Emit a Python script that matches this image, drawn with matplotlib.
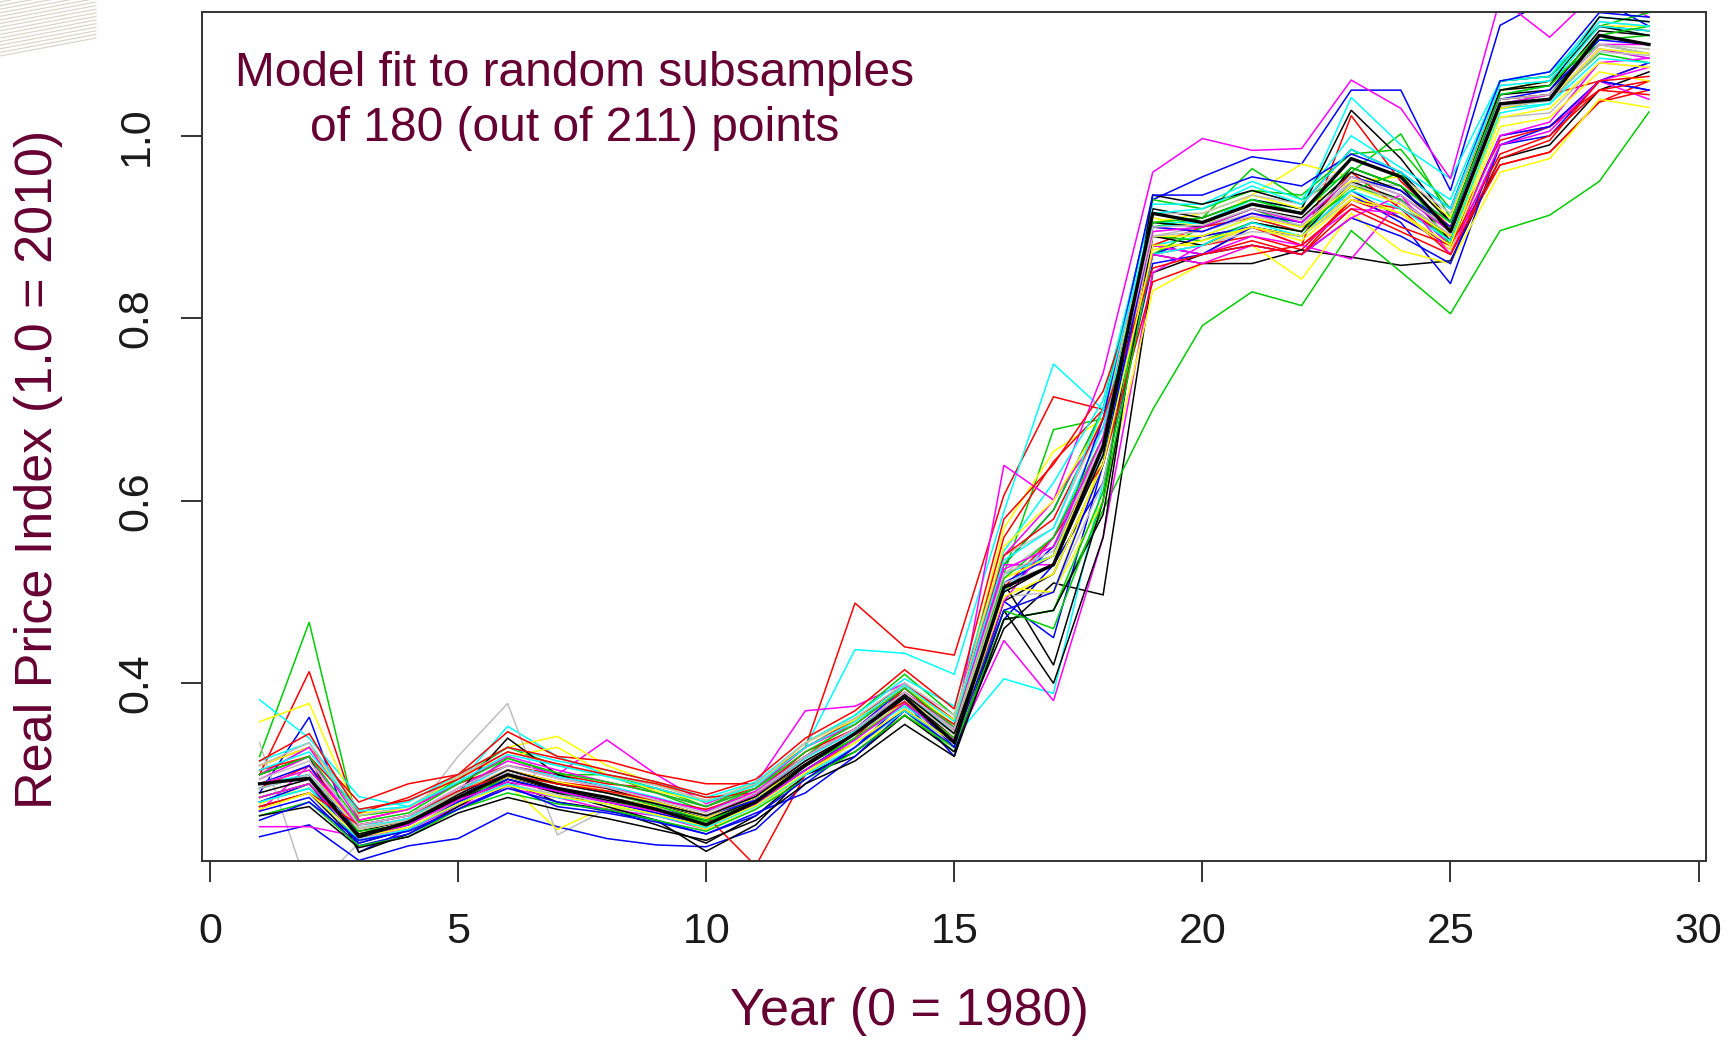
import matplotlib
matplotlib.use("Agg")
import matplotlib.pyplot as plt
from matplotlib.lines import Line2D

plt.rcParams['font.family'] = ['Liberation Sans', 'DejaVu Sans']

# ---------------- data ----------------
years = list(range(1, 30))
x_ticks = [0, 5, 10, 15, 20, 25, 30]
y_ticks = [0.4, 0.6, 0.8, 1.0]
y_tick_labels = ["0.4", "0.6", "0.8", "1.0"]

full_fit = [0.290,0.296,0.232,0.248,0.275,0.300,0.285,0.275,0.262,0.245,0.270,0.310,0.345,0.385,0.335,0.505,0.530,0.660,0.915,0.905,0.925,0.915,0.975,0.955,0.895,1.035,1.040,1.110,1.100]

black_a = [0.265,0.280,0.225,0.240,0.268,0.292,0.270,0.262,0.245,0.225,0.255,0.300,0.325,0.365,0.330,0.460,0.510,0.497,0.850,0.870,0.900,0.890,0.950,0.930,0.880,1.040,1.045,1.110,1.100]
black_b = [0.275,0.290,0.230,0.245,0.272,0.298,0.283,0.272,0.262,0.250,0.272,0.305,0.340,0.378,0.335,0.490,0.520,0.640,0.870,0.860,0.860,0.875,0.867,0.858,0.863,0.975,0.990,1.050,1.070]
black_c = [0.300,0.320,0.215,0.235,0.265,0.295,0.280,0.265,0.250,0.216,0.245,0.300,0.320,0.365,0.325,0.480,0.400,0.560,0.920,0.910,0.930,0.920,1.028,0.975,0.905,1.060,1.065,1.120,1.110]
black_d = [0.285,0.300,0.238,0.250,0.280,0.340,0.300,0.285,0.268,0.252,0.275,0.312,0.345,0.385,0.340,0.510,0.420,0.600,0.935,0.925,0.940,0.925,0.985,0.960,0.905,1.050,1.060,1.120,1.115]
black_e = [0.255,0.265,0.220,0.232,0.258,0.275,0.262,0.252,0.240,0.228,0.250,0.290,0.315,0.355,0.320,0.470,0.480,0.585,0.890,0.880,0.905,0.895,0.965,0.945,0.885,1.050,1.055,1.130,1.125]
black_f = [0.280,0.295,0.235,0.248,0.278,0.305,0.290,0.280,0.268,0.255,0.276,0.315,0.345,0.388,0.345,0.500,0.530,0.650,0.905,0.900,0.920,0.910,0.960,0.940,0.895,1.045,1.050,1.115,1.110]

red_a = [0.300,0.413,0.250,0.262,0.290,0.310,0.300,0.290,0.285,0.270,0.285,0.330,0.488,0.440,0.431,0.606,0.714,0.700,0.870,0.880,0.890,0.875,0.930,0.910,0.880,0.968,0.982,1.037,1.060]
red_b = [0.310,0.330,0.270,0.290,0.300,0.347,0.320,0.315,0.300,0.290,0.290,0.330,0.360,0.400,0.360,0.560,0.643,0.700,0.880,0.870,0.885,0.870,0.930,0.920,0.870,0.968,0.982,1.037,1.050]
red_c = [0.285,0.310,0.240,0.250,0.280,0.305,0.292,0.285,0.270,0.255,0.200,0.300,0.340,0.395,0.350,0.520,0.540,0.660,0.870,0.890,0.900,0.880,1.022,0.950,0.900,1.040,1.045,1.060,1.080]
red_d = [0.315,0.345,0.258,0.275,0.300,0.330,0.318,0.305,0.292,0.278,0.295,0.340,0.370,0.415,0.372,0.580,0.640,0.720,0.880,0.900,0.910,0.895,0.960,0.920,0.890,0.995,1.010,1.050,1.060]
red_e = [0.305,0.320,0.262,0.272,0.295,0.325,0.312,0.300,0.290,0.275,0.280,0.325,0.350,0.380,0.335,0.505,0.560,0.640,0.840,0.860,0.870,0.880,0.925,0.900,0.880,0.980,1.000,1.050,1.045]
red_f = [0.265,0.280,0.245,0.255,0.282,0.300,0.290,0.282,0.272,0.262,0.280,0.320,0.350,0.390,0.355,0.540,0.580,0.690,0.855,0.870,0.880,0.870,0.920,0.895,0.870,0.975,0.995,1.060,1.065]

green_a = [0.320,0.467,0.240,0.250,0.280,0.318,0.300,0.300,0.280,0.260,0.285,0.320,0.360,0.390,0.350,0.520,0.678,0.690,0.900,0.910,0.964,0.930,0.960,1.002,0.910,1.050,1.060,1.100,1.090]
green_b = [0.270,0.285,0.235,0.245,0.275,0.295,0.280,0.270,0.262,0.248,0.270,0.305,0.335,0.370,0.325,0.470,0.480,0.590,0.700,0.792,0.829,0.814,0.896,0.851,0.805,0.896,0.913,0.950,1.026]
green_c = [0.300,0.330,0.255,0.262,0.295,0.330,0.310,0.300,0.285,0.265,0.290,0.335,0.365,0.410,0.365,0.530,0.590,0.700,0.930,0.920,0.940,0.935,0.980,0.985,0.920,1.060,1.065,1.120,1.135]
green_d = [0.255,0.270,0.222,0.232,0.262,0.280,0.268,0.262,0.250,0.238,0.262,0.295,0.325,0.365,0.330,0.470,0.480,0.610,0.890,0.885,0.905,0.895,0.945,0.930,0.885,1.030,1.040,1.090,1.080]
green_e = [0.275,0.290,0.238,0.245,0.275,0.300,0.290,0.280,0.266,0.250,0.268,0.310,0.340,0.378,0.340,0.480,0.460,0.600,0.870,0.900,0.920,0.900,0.940,0.960,0.880,1.035,1.045,1.105,1.110]
green_f = [0.300,0.320,0.248,0.258,0.290,0.318,0.302,0.292,0.280,0.265,0.285,0.325,0.355,0.395,0.352,0.515,0.560,0.670,0.905,0.910,0.930,0.915,0.965,0.945,0.905,1.045,1.055,1.110,1.120]

blue_a = [0.280,0.363,0.215,0.240,0.270,0.300,0.285,0.275,0.265,0.250,0.275,0.320,0.350,0.395,0.350,0.530,0.590,0.700,0.930,0.955,0.977,0.969,1.050,1.050,0.940,1.121,1.150,1.150,1.120]
blue_b = [0.232,0.245,0.206,0.222,0.230,0.258,0.243,0.230,0.223,0.221,0.240,0.290,0.330,0.380,0.320,0.490,0.450,0.640,0.880,0.870,0.900,0.890,0.935,0.905,0.838,0.990,1.010,1.060,1.050]
blue_c = [0.260,0.275,0.222,0.235,0.262,0.285,0.270,0.260,0.250,0.235,0.258,0.280,0.320,0.370,0.330,0.470,0.530,0.620,0.860,0.870,0.880,0.870,0.910,0.890,0.860,0.990,1.000,1.060,1.050]
blue_d = [0.270,0.290,0.225,0.240,0.270,0.295,0.282,0.270,0.258,0.245,0.268,0.305,0.340,0.380,0.335,0.500,0.550,0.650,0.870,0.890,0.900,0.890,0.940,0.910,0.880,1.000,1.010,1.060,1.080]
blue_e = [0.290,0.310,0.232,0.245,0.275,0.305,0.290,0.282,0.270,0.255,0.272,0.310,0.345,0.385,0.330,0.510,0.540,0.690,0.935,0.935,0.955,0.945,0.980,0.960,0.920,1.060,1.070,1.135,1.130]
blue_f = [0.250,0.270,0.228,0.238,0.262,0.288,0.265,0.258,0.248,0.235,0.255,0.295,0.330,0.372,0.335,0.480,0.500,0.640,0.900,0.895,0.915,0.905,0.955,0.940,0.900,1.040,1.050,1.105,1.100]

cyan_a = [0.382,0.340,0.276,0.265,0.290,0.353,0.320,0.300,0.290,0.270,0.290,0.330,0.437,0.433,0.410,0.588,0.750,0.700,0.900,0.905,0.930,0.920,1.042,0.990,0.953,1.060,1.070,1.120,1.110]
cyan_b = [0.290,0.300,0.245,0.250,0.280,0.305,0.290,0.280,0.268,0.255,0.275,0.310,0.340,0.375,0.340,0.405,0.389,0.620,0.880,0.890,0.910,0.895,0.945,0.925,0.885,1.030,1.035,1.095,1.085]
cyan_c = [0.315,0.335,0.262,0.270,0.300,0.330,0.315,0.305,0.292,0.275,0.292,0.335,0.365,0.405,0.375,0.545,0.620,0.710,0.925,0.925,0.950,0.930,1.000,0.965,0.930,1.060,1.065,1.130,1.125]
cyan_d = [0.270,0.285,0.228,0.240,0.268,0.290,0.275,0.268,0.255,0.242,0.265,0.300,0.330,0.370,0.335,0.500,0.560,0.680,0.905,0.905,0.930,0.915,0.965,0.945,0.905,1.045,1.055,1.120,1.115]
cyan_e = [0.285,0.300,0.240,0.252,0.282,0.310,0.298,0.288,0.275,0.260,0.280,0.318,0.348,0.390,0.345,0.520,0.540,0.650,0.870,0.880,0.905,0.890,0.940,0.920,0.885,1.025,1.035,1.085,1.080]
cyan_f = [0.305,0.325,0.260,0.265,0.292,0.322,0.310,0.298,0.285,0.270,0.288,0.330,0.358,0.398,0.358,0.535,0.570,0.700,0.915,0.920,0.945,0.925,0.985,0.960,0.920,1.055,1.060,1.125,1.120]

magenta_a = [0.260,0.310,0.245,0.255,0.285,0.315,0.300,0.338,0.300,0.268,0.290,0.370,0.375,0.400,0.360,0.540,0.600,0.740,0.960,0.997,0.984,0.986,1.061,1.030,0.953,1.150,1.108,1.160,1.130]
magenta_b = [0.243,0.243,0.232,0.240,0.265,0.285,0.275,0.262,0.255,0.240,0.262,0.300,0.330,0.370,0.330,0.447,0.381,0.560,0.850,0.880,0.900,0.880,0.865,0.930,0.880,1.000,1.010,1.060,1.040]
magenta_c = [0.295,0.320,0.240,0.250,0.280,0.305,0.290,0.280,0.268,0.255,0.278,0.315,0.345,0.385,0.345,0.639,0.601,0.680,0.900,0.895,0.915,0.900,0.945,0.930,0.890,1.030,1.040,1.095,1.085]
magenta_d = [0.300,0.330,0.250,0.262,0.290,0.320,0.305,0.292,0.280,0.265,0.285,0.330,0.355,0.395,0.350,0.530,0.530,0.660,0.880,0.870,0.890,0.880,0.920,0.915,0.875,1.000,1.015,1.080,1.085]
magenta_e = [0.275,0.290,0.232,0.245,0.272,0.292,0.282,0.270,0.260,0.246,0.268,0.305,0.338,0.378,0.338,0.490,0.560,0.660,0.870,0.860,0.880,0.870,0.910,0.935,0.870,0.990,1.005,1.060,1.075]
magenta_f = [0.290,0.305,0.245,0.255,0.285,0.310,0.296,0.286,0.274,0.260,0.282,0.320,0.350,0.390,0.350,0.525,0.550,0.670,0.895,0.900,0.920,0.905,0.955,0.935,0.895,1.035,1.045,1.100,1.100]

yellow_a = [0.358,0.378,0.255,0.262,0.300,0.330,0.342,0.310,0.290,0.270,0.292,0.330,0.355,0.395,0.355,0.570,0.654,0.690,0.905,0.915,0.935,0.969,0.955,0.940,0.900,1.050,1.055,1.110,1.100]
yellow_b = [0.268,0.290,0.232,0.245,0.272,0.290,0.240,0.265,0.258,0.240,0.262,0.300,0.330,0.365,0.330,0.480,0.500,0.600,0.830,0.860,0.880,0.843,0.915,0.874,0.860,0.960,0.975,1.040,1.031]
yellow_c = [0.310,0.330,0.258,0.262,0.298,0.320,0.330,0.300,0.282,0.270,0.288,0.335,0.360,0.395,0.360,0.550,0.600,0.690,0.910,0.900,0.935,0.920,0.950,0.955,0.910,1.050,1.060,1.120,1.120]
yellow_d = [0.275,0.290,0.235,0.248,0.275,0.298,0.285,0.275,0.265,0.252,0.275,0.310,0.340,0.380,0.340,0.505,0.500,0.650,0.880,0.880,0.900,0.885,0.930,0.915,0.875,1.010,1.020,1.070,1.060]
yellow_e = [0.290,0.305,0.240,0.250,0.280,0.305,0.292,0.282,0.270,0.255,0.276,0.315,0.345,0.385,0.345,0.515,0.540,0.660,0.890,0.890,0.910,0.900,0.945,0.925,0.890,1.030,1.040,1.095,1.090]
yellow_f = [0.262,0.280,0.232,0.242,0.268,0.288,0.276,0.268,0.256,0.244,0.266,0.302,0.335,0.372,0.335,0.495,0.520,0.640,0.875,0.885,0.900,0.890,0.935,0.915,0.880,1.020,1.030,1.080,1.075]

gray_a = [0.335,0.170,0.225,0.250,0.320,0.378,0.234,0.262,0.260,0.245,0.270,0.310,0.340,0.385,0.345,0.520,0.560,0.650,0.890,0.900,0.915,0.905,0.950,0.945,0.900,1.040,1.045,1.100,1.090]
gray_b = [0.290,0.305,0.242,0.252,0.282,0.305,0.292,0.282,0.270,0.255,0.278,0.318,0.348,0.388,0.348,0.515,0.540,0.665,0.895,0.900,0.920,0.905,0.955,0.935,0.895,1.035,1.040,1.095,1.090]
gray_c = [0.270,0.290,0.230,0.240,0.270,0.290,0.278,0.270,0.258,0.242,0.268,0.300,0.335,0.372,0.335,0.495,0.500,0.620,0.870,0.880,0.895,0.890,0.930,0.915,0.880,1.020,1.025,1.080,1.075]
gray_d = [0.310,0.335,0.255,0.265,0.298,0.325,0.310,0.300,0.288,0.272,0.290,0.335,0.362,0.400,0.365,0.540,0.570,0.690,0.915,0.915,0.935,0.925,0.975,0.955,0.915,1.055,1.060,1.125,1.120]
gray_e = [0.285,0.300,0.240,0.250,0.280,0.302,0.290,0.280,0.268,0.254,0.276,0.315,0.344,0.384,0.344,0.510,0.530,0.655,0.890,0.895,0.912,0.902,0.948,0.928,0.892,1.032,1.038,1.092,1.088]
gray_f = [0.295,0.315,0.245,0.255,0.285,0.310,0.296,0.286,0.272,0.258,0.280,0.320,0.350,0.390,0.350,0.520,0.545,0.665,0.900,0.902,0.920,0.908,0.955,0.935,0.898,1.040,1.045,1.100,1.095]

palette = ["black", "#FF0000", "#00CD00", "#0000FF", "#00FFFF", "#FF00FF", "#FFFF00", "#BEBEBE"]
groups = [
    [black_a, red_a, green_a, blue_a, cyan_a, magenta_a, yellow_a, gray_a],
    [black_b, red_b, green_b, blue_b, cyan_b, magenta_b, yellow_b, gray_b],
    [black_c, red_c, green_c, blue_c, cyan_c, magenta_c, yellow_c, gray_c],
    [black_d, red_d, green_d, blue_d, cyan_d, magenta_d, yellow_d, gray_d],
    [black_e, red_e, green_e, blue_e, cyan_e, magenta_e, yellow_e, gray_e],
    [black_f, red_f, green_f, blue_f, cyan_f, magenta_f, yellow_f, gray_f],
]

maroon = "#660033"

# ---------------- figure ----------------
W, H = 1731, 1042
fig = plt.figure(figsize=(W / 100, H / 100), dpi=100)
fig.patch.set_facecolor("white")

# decorative slide stripes (top-left)
for i in range(16):
    y0 = (H - 2 - i * 3.6) / H
    y1 = (H - 2 - i * 3.6 + 18) / H
    fig.add_artist(Line2D([0, 96 / W], [y0, y1], transform=fig.transFigure,
                          color="#d9d2c3", lw=0.8, zorder=0))

ax = fig.add_axes([202.5 / W, (H - 861) / H, (1706 - 202.5) / W, (861 - 12) / H])

for grp in groups:
    for series, col in zip(grp, palette):
        ax.plot(years, series, color=col, lw=1.1, solid_joinstyle="miter")
ax.plot(years, full_fit, color="black", lw=2.4)

ax.set_xlim(-0.15, 30.15)
ax.set_ylim(0.2054, 1.1356)
ax.set_xticks(x_ticks)
ax.set_xticklabels([str(v) for v in x_ticks])
ax.set_yticks(y_ticks)
ax.set_yticklabels(y_tick_labels, rotation=90, va="center")

for sp in ax.spines.values():
    sp.set_linewidth(1.4)
    sp.set_color("#333333")
ax.tick_params(axis="both", direction="out", length=15, width=1.4, color="#333333",
               labelsize=31, labelcolor="#1a1a1a")
ax.tick_params(axis="x", pad=22)
ax.tick_params(axis="y", pad=18)

# axis titles (slide text)
fig.text(909 / W, 1 - 1011 / H, "Year (0 = 1980)", color=maroon, fontsize=37.5,
         ha="center", va="center")
fig.text(39 / W, 1 - 469 / H, "Real Price Index (1.0 = 2010)", color=maroon, fontsize=37.5,
         ha="center", va="center", rotation=90)

# annotation
fig.text(575 / W, 1 - 86 / H, "Model fit to random subsamples", color=maroon, fontsize=34.5,
         ha="center", va="baseline")
fig.text(575 / W, 1 - 141 / H, "of 180 (out of 211) points", color=maroon, fontsize=34.5,
         ha="center", va="baseline")

fig.savefig("out.png", dpi=100, facecolor="white")
